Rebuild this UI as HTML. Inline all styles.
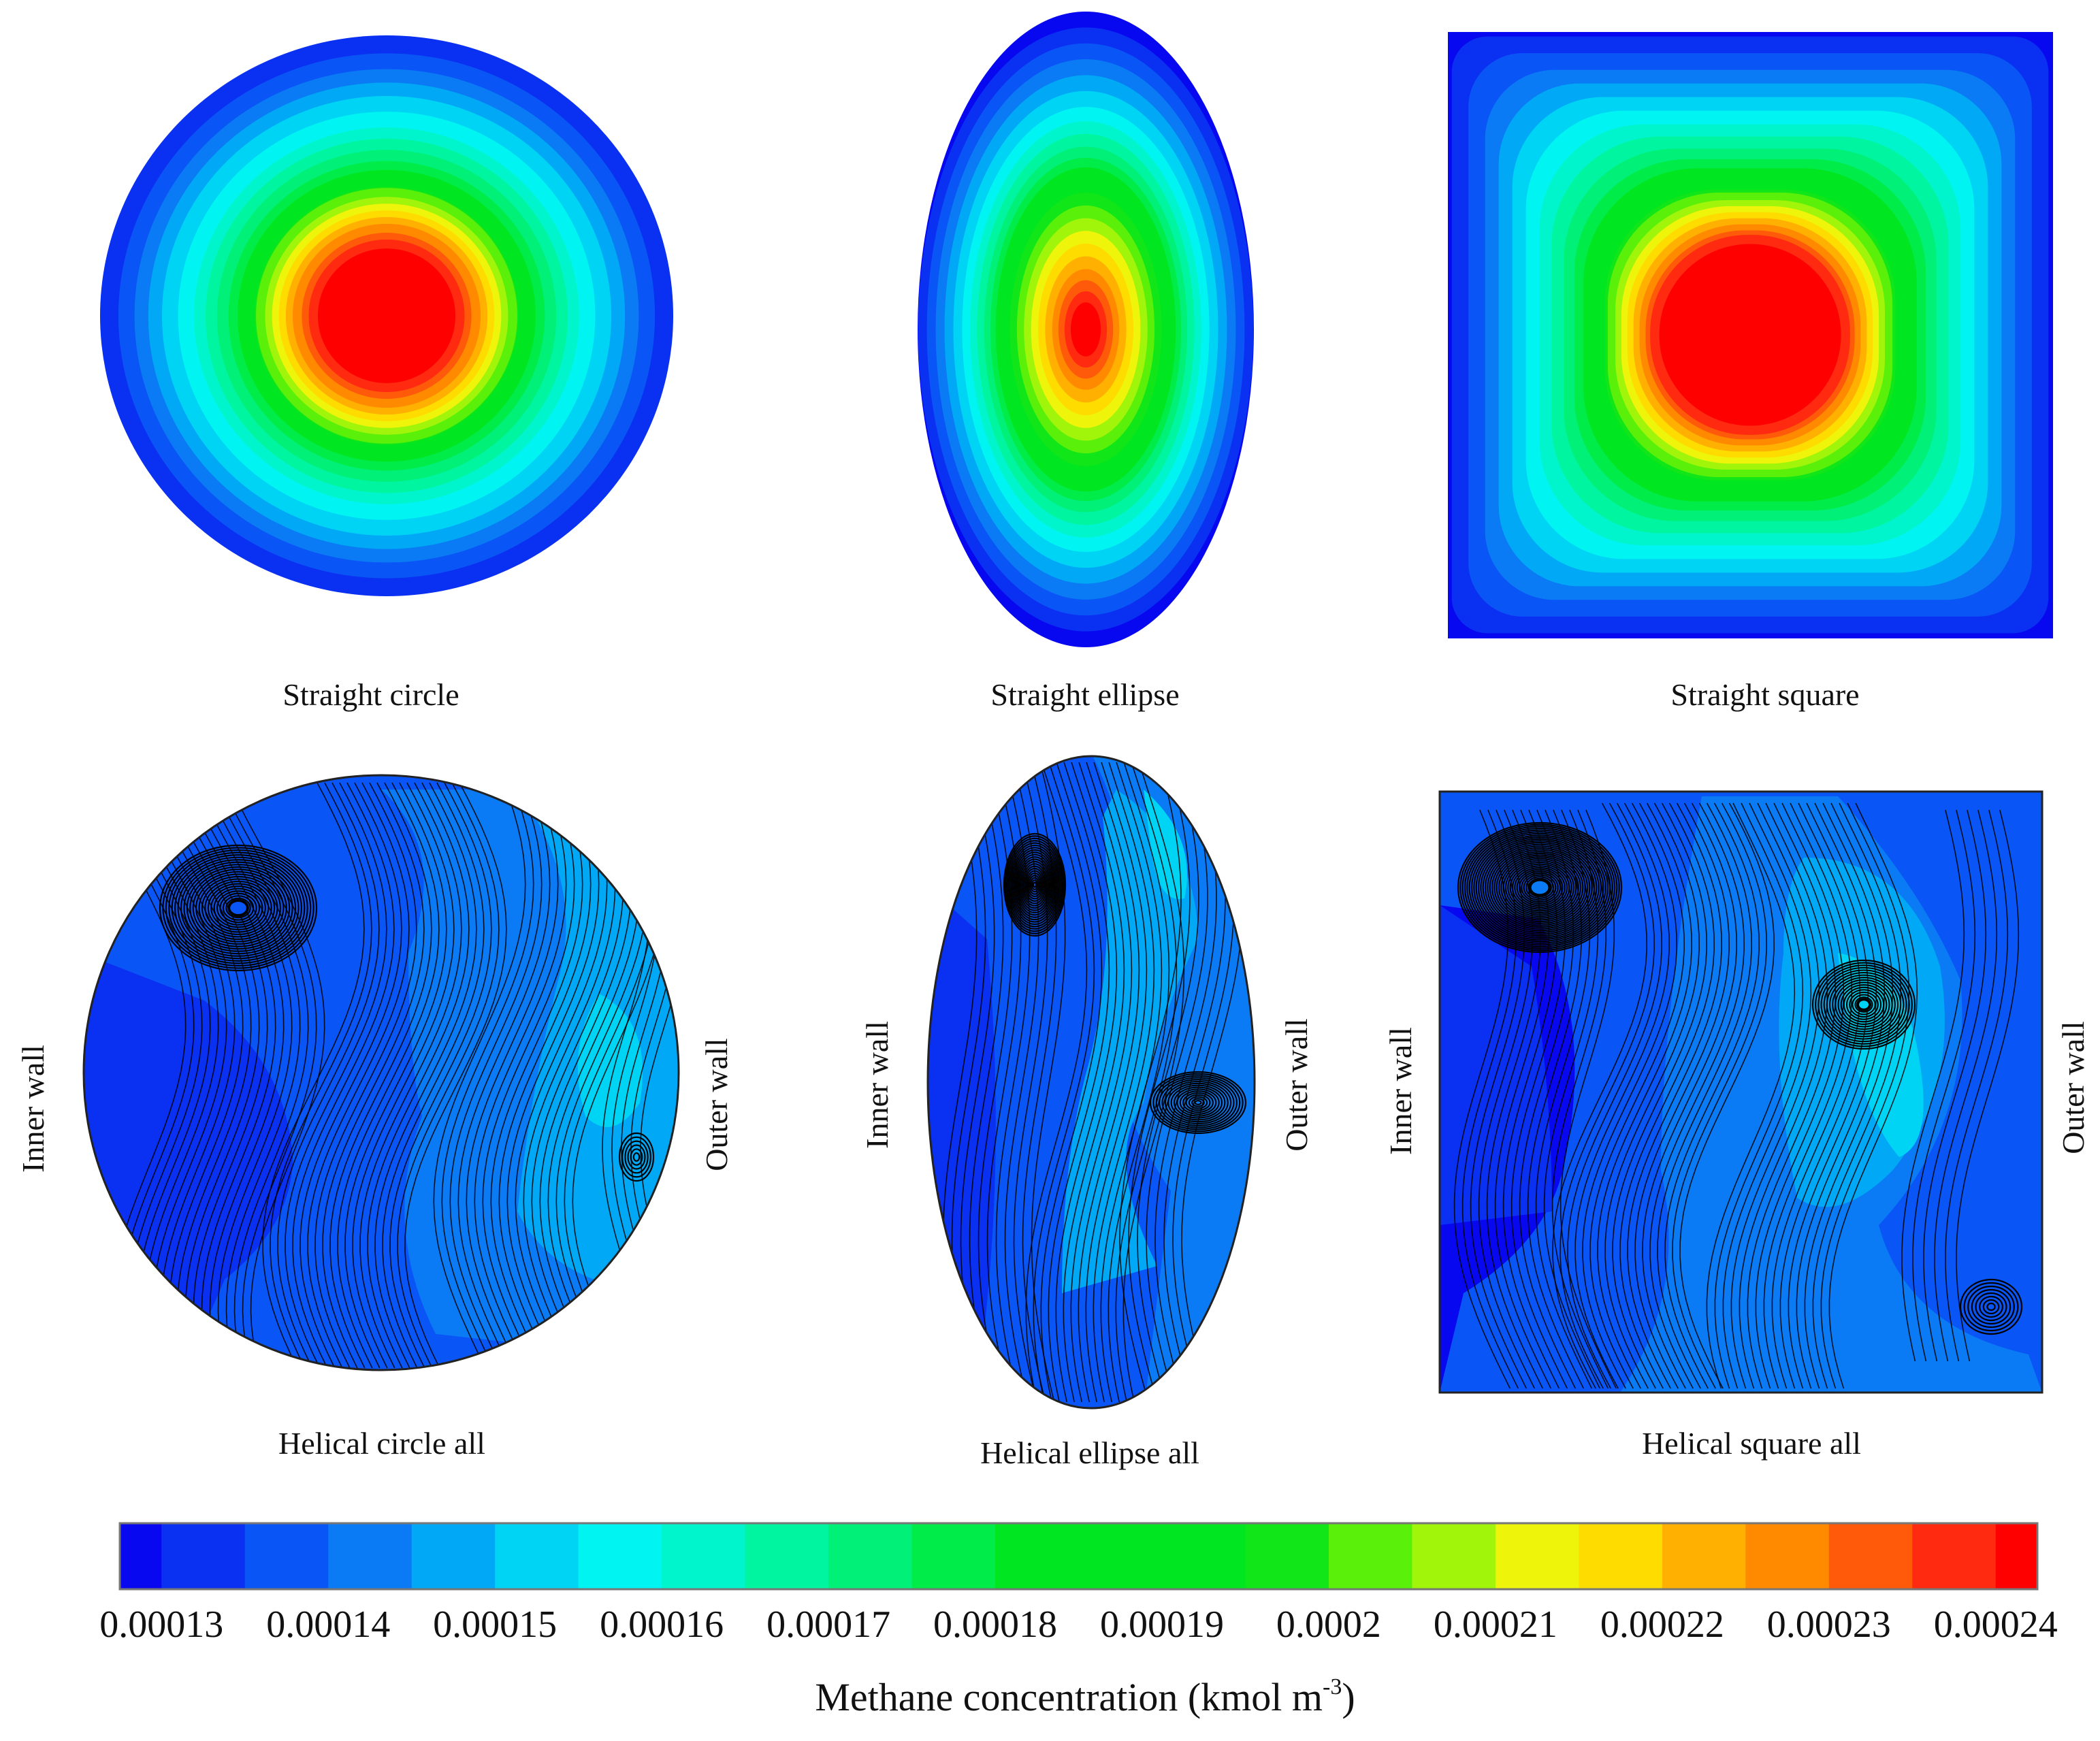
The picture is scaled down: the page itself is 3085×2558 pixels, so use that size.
<!DOCTYPE html>
<html><head><meta charset="utf-8">
<style>
html,body{margin:0;padding:0;background:#fff;}
svg{display:block;}
text{font-family:"Liberation Serif",serif;fill:#111;}
</style></head>
<body>
<svg id="fig" width="3085" height="2558" viewBox="0 0 3085 2558" xmlns="http://www.w3.org/2000/svg" font-family="Liberation Serif, serif">
<defs>
<clipPath id="clipHC"><circle cx="560" cy="1576" r="437"/></clipPath>
<clipPath id="clipHE"><ellipse cx="1603" cy="1590" rx="240" ry="479"/></clipPath>
<clipPath id="clipHS"><rect x="2115" y="1163" width="885" height="883"/></clipPath>
<clipPath id="clipSS"><rect x="2127" y="47" width="889" height="891"/></clipPath>
</defs>
<g id="straight"></g>
<g id="helical"></g>
<g id="cbar"></g>

<text x="545" y="1036" font-size="46" font-family="Liberation Serif, serif" text-anchor="middle">Straight circle</text>
<text x="1594" y="1036" font-size="46" font-family="Liberation Serif, serif" text-anchor="middle">Straight ellipse</text>
<text x="2593" y="1036" font-size="46" font-family="Liberation Serif, serif" text-anchor="middle">Straight square</text>
<text x="561" y="2136" font-size="46" font-family="Liberation Serif, serif" text-anchor="middle">Helical circle all</text>
<text x="1601" y="2150" font-size="46" font-family="Liberation Serif, serif" text-anchor="middle">Helical ellipse all</text>
<text x="2573" y="2136" font-size="46" font-family="Liberation Serif, serif" text-anchor="middle">Helical square all</text>

<text transform="translate(64,1629) rotate(-90)" font-size="46" font-family="Liberation Serif, serif" text-anchor="middle">Inner wall</text>
<text transform="translate(1068,1623) rotate(-90)" font-size="46" font-family="Liberation Serif, serif" text-anchor="middle">Outer wall</text>
<text transform="translate(1304,1594) rotate(-90)" font-size="46" font-family="Liberation Serif, serif" text-anchor="middle">Inner wall</text>
<text transform="translate(1920,1594) rotate(-90)" font-size="46" font-family="Liberation Serif, serif" text-anchor="middle">Outer wall</text>
<text transform="translate(2073,1603) rotate(-90)" font-size="46" font-family="Liberation Serif, serif" text-anchor="middle">Inner wall</text>
<text transform="translate(3061,1598) rotate(-90)" font-size="46" font-family="Liberation Serif, serif" text-anchor="middle">Outer wall</text>

<text x="1594" y="2513" font-size="58" font-family="Liberation Serif, serif" text-anchor="middle">Methane concentration (kmol m<tspan dy="-24" font-size="34">-3</tspan><tspan dy="24">)</tspan></text>
</svg>
<script>
const NS="http://www.w3.org/2000/svg";
// colorbar data
const levelColors=["#0808f0","#0a30f2","#0a55f5","#0a7af5","#00a8f5","#00d4f5","#00f5f2","#00f5cc","#00f5a0","#00f078","#00ec48","#00e620","#00e620","#00e620","#10e618","#5af00a","#a0f50a","#eef50a","#ffdc00","#ffb000","#ff8a00","#ff5a0a","#ff2a10","#ff0000"];
const tickLabels=["0.00013","0.00014","0.00015","0.00016","0.00017","0.00018","0.00019","0.0002","0.00021","0.00022","0.00023","0.00024"];
const tickValues=[0.00013,0.00014,0.00015,0.00016,0.00017,0.00018,0.00019,0.0002,0.00021,0.00022,0.00023,0.00024];
// band outer-radius fractions per level (index = level)
const circleLevels=[null,1.0,0.936,0.88,0.832,0.784,0.728,0.672,0.632,0.592,0.552,0.52,0.5,0.48,0.46,0.456,0.424,0.4,0.376,0.352,0.328,0.296,0.272,0.24];
const ellipseLevels=[1.0,0.95,0.9,0.85,0.8,0.75,0.7,0.655,0.615,0.575,0.54,0.51,0.48,0.45,0.43,0.39,0.35,0.31,0.27,0.23,0.19,0.155,0.12,0.085];
const squareLevels=[1.2,0.985,0.93,0.875,0.83,0.785,0.74,0.695,0.655,0.615,0.58,0.55,0.52,0.5,0.48,0.47,0.445,0.425,0.405,0.385,0.365,0.345,0.33,0.3];

function mk(tag,attrs,parent){const e=document.createElementNS(NS,tag);for(const k in attrs)e.setAttribute(k,attrs[k]);parent.appendChild(e);return e;}

// colorbar
const cb=document.getElementById('cbar');
const cbX0=176,cbX1=2993,cbY=2238,cbH=97;
const vMin=tickValues[0],vMax=tickValues[tickValues.length-1];
const xScale=v=>cbX0+61.25+(v-vMin)/(vMax-vMin)*(cbX1-cbX0-122.5);
const segW=(xScale(tickValues[1])-xScale(tickValues[0]))/2;
levelColors.forEach((c,i)=>{
  let a=Math.max(cbX0,xScale(vMin)+(i-1)*segW), b=Math.min(cbX1,xScale(vMin)+i*segW);
  const r=mk('rect',{x:a,y:cbY,width:b-a+0.5,height:cbH,fill:c},cb);
  
  
});
mk('rect',{x:cbX0,y:cbY,width:cbX1-cbX0,height:cbH,fill:'none',stroke:'#777',"stroke-width":3},cb);
tickValues.forEach((v,i)=>{
  const t=mk('text',{x:xScale(v),y:2405,"font-size":56,"text-anchor":"middle","font-family":"Liberation Serif, serif"},cb);
  t.textContent=tickLabels[i];
  
  
});

// straight contours
const sg=document.getElementById('straight');
for(let i=1;i<circleLevels.length;i++){
  const f=circleLevels[i];
  const c=mk('ellipse',{cx:568,cy:464,rx:421*f,ry:412*f,fill:levelColors[i]},sg);
  
  
}
for(let i=0;i<ellipseLevels.length;i++){
  const f=ellipseLevels[i];
  const c=mk('ellipse',{cx:1595,cy:484,rx:247*Math.min(1,f*1.05),ry:467*f},sg);
  c.setAttribute('fill',levelColors[i]);
  
  
}
const sq=mk('g',{"clip-path":"url(#clipSS)"},sg);
for(let i=0;i<squareLevels.length;i++){
  const f=squareLevels[i];const h=445*f;
  const rr=h*Math.min(1,0.1+Math.max(0,(1-f))*1.3);
  const c=mk('rect',{x:2571-h,y:492-h,width:2*h,height:2*h,rx:rr,fill:levelColors[i]},sq);
  
  
}

// helical panels
const hg=document.getElementById('helical');
function panel(clip,shapeTag,shapeAttrs,regions,streams,vortices){
  const g=mk('g',{"clip-path":"url(#"+clip+")"},hg);
  const base=mk(shapeTag,Object.assign({fill:'#0a55f5'},shapeAttrs),g);
  
  
  regions.forEach(r=>{const p=mk('path',{d:r[0],fill:r[1]},g);
    
    });
  streams.forEach(s=>{
    const [x0,y0,y1,A,ph,sl,n,gap]=s;
    for(let k=0;k<n;k++){
      let d='';
      for(let j=0;j<=40;j++){
        const t=j/40;const y=y0+(y1-y0)*t;
        const x=x0+k*gap+A*Math.sin(Math.PI*2*t*0.9+ph)+sl*t;
        d+=(j?'L':'M')+x.toFixed(1)+','+y.toFixed(1);
      }
      const p=mk('path',{d:d,fill:'none',stroke:'#000',"stroke-width":1.6,"stroke-opacity":0.85},g);
      
      
    }
  });
  vortices.forEach(v=>{
    const [cx,cy,rx,ry,n,core]=v;
    for(let k=0;k<n;k++){
      const f=1-k/n;
      const e=mk('ellipse',{cx:cx,cy:cy,rx:rx*f,ry:ry*f,fill:'none',stroke:'#000',"stroke-width":2.2},g);
      
      
    }
    if(core){const c=mk('ellipse',{cx:cx,cy:cy,rx:rx*0.12,ry:ry*0.12,fill:core,stroke:'#000',"stroke-width":4},g);
      
      }
  });
  mk(shapeTag,Object.assign({fill:'none',stroke:'#222',"stroke-width":3},shapeAttrs),hg);
}
// helical circle
panel('clipHC','circle',{cx:560,cy:1576,r:437},[
  ['M120,1400 L300,1470 Q420,1560 430,1700 Q430,1800 330,1880 L260,2040 L100,2040 Z','#0a30f2'],
  ['M560,1160 Q660,1250 600,1400 Q600,1560 620,1640 Q560,1800 640,1960 L1000,2000 L1000,1160 Z','#0a7af5'],
  ['M760,1160 Q860,1300 820,1440 Q780,1600 760,1780 Q820,1900 1000,1900 L1000,1160 Z','#00a8f5'],
  ['M880,1460 Q960,1500 940,1620 Q900,1680 860,1640 Q830,1540 880,1460 Z','#00d4f5']
],[
  [180,1180,2010,70,-0.5,60,18,12],
  [450,1150,2010,80,0.2,20,20,11],
  [700,1150,2000,70,0.6,10,18,12],
  [920,1250,1900,35,0.9,0,5,14]
],[[350,1334,115,92,26,'#0a55f5'],[935,1700,25,35,6,null]]);
// helical ellipse
panel('clipHE','ellipse',{cx:1603,cy:1590,rx:240,ry:479},[
  ['M1600,1100 Q1700,1300 1640,1480 Q1620,1600 1720,1750 Q1700,1900 1680,2080 L1860,2080 L1860,1100 Z','#0a7af5'],
  ['M1640,1160 Q1760,1240 1760,1380 Q1700,1500 1680,1620 Q1620,1700 1700,1860 L1560,1900 Q1560,1700 1600,1560 Q1640,1400 1620,1200 Z','#00a8f5'],
  ['M1680,1160 Q1760,1230 1740,1320 Q1700,1330 1690,1240 Z','#00d4f5'],
  ['M1360,1300 L1450,1380 Q1480,1700 1440,2000 L1360,2080 Z','#0a30f2']
],[
  [1390,1130,2060,35,0.3,40,11,13],
  [1540,1120,2060,50,-0.2,20,14,11],
  [1690,1150,2050,45,0.5,0,8,13]
],[[1520,1300,45,75,22,null],[1760,1620,70,45,16,null]]);
// helical square
panel('clipHS','rect',{x:2115,y:1163,width:885,height:883},[
  ['M2115,1330 L2260,1350 Q2340,1500 2300,1700 Q2280,1820 2150,1900 L2115,2046 Z','#0808f0'],
  ['M2115,1330 L2250,1420 Q2280,1600 2280,1780 L2115,1800 Z','#0a30f2'],
  ['M2500,1170 L2700,1170 Q2820,1300 2880,1440 Q2900,1650 2760,1800 Q2800,1950 2980,1990 L3000,2046 L2380,2046 Q2480,1900 2440,1720 Q2440,1500 2500,1170 Z','#0a7af5'],
  ['M2650,1260 Q2800,1260 2850,1420 Q2880,1600 2780,1720 Q2700,1800 2640,1760 Q2600,1560 2620,1400 Q2620,1300 2650,1260 Z','#00a8f5'],
  ['M2700,1400 Q2800,1420 2820,1560 Q2840,1680 2790,1700 Q2720,1620 2700,1400 Z','#00d4f5']
],[
  [2140,1190,2040,60,0.6,80,14,12],
  [2330,1180,2040,80,0.3,40,18,11],
  [2560,1180,2040,70,-0.2,20,16,12],
  [2850,1190,2000,40,0.2,-20,6,16]
],[[2262,1304,120,95,36,'#0a7af5'],[2738,1476,75,65,18,'#00d4f5'],[2925,1920,45,40,8,null]]);
</script>
</body></html>
